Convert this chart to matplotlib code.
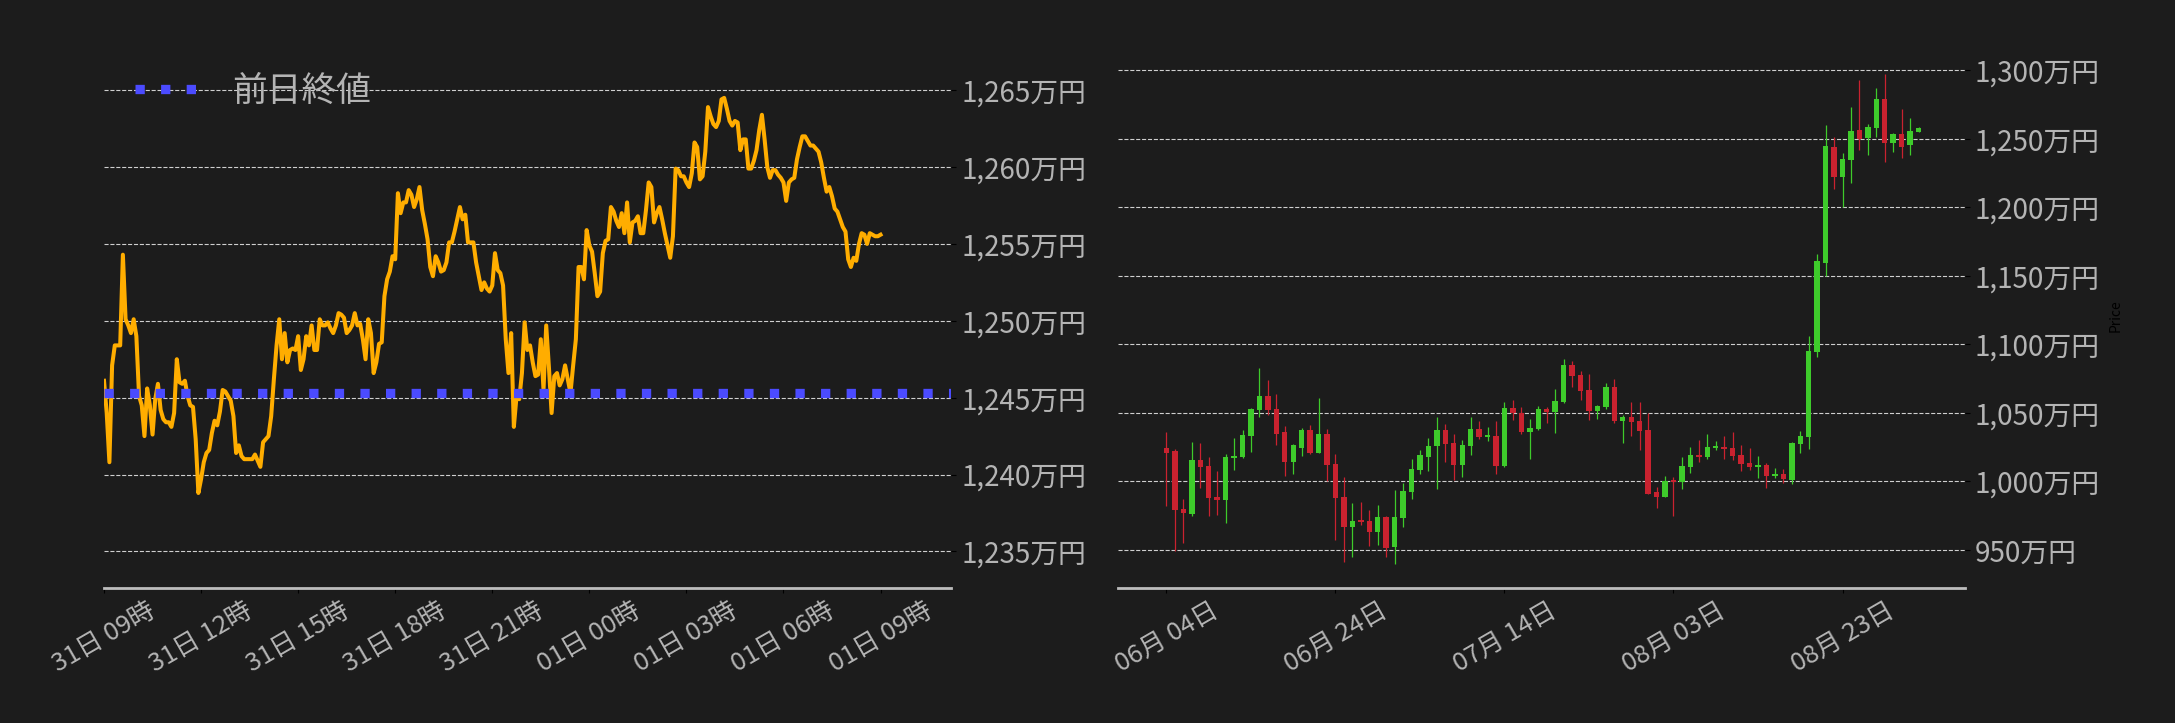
import matplotlib
matplotlib.use('Agg')
import matplotlib.pyplot as plt
import matplotlib.dates as mdates
from matplotlib.ticker import FuncFormatter
import pandas as pd

plt.rcParams['font.family'] = ['Noto Sans CJK JP', 'DejaVu Sans']

# ---- intraday price (万円), 5 min steps from 31日 09:00 ----
intraday_start = '2024-08-31 09:00'
intraday_price = [
    1246.1, 1244.0, 1240.8, 1247.1, 1248.4, 1248.4, 1248.4, 1254.3, 1250.1, 1249.7,
    1249.2, 1250.1, 1249.0, 1245.1, 1244.5, 1242.5, 1245.6, 1244.5, 1242.6, 1244.9,
    1245.9, 1244.2, 1243.6, 1243.4, 1243.4, 1243.1, 1244.0, 1247.5, 1246.0, 1245.9,
    1246.1, 1245.1, 1244.5, 1244.4, 1242.3, 1238.8, 1239.7, 1240.8, 1241.4, 1241.6,
    1242.7, 1243.5, 1243.2, 1244.1, 1245.5, 1245.4, 1245.1, 1244.8, 1243.8, 1241.4,
    1241.9, 1241.2, 1241.0, 1241.0, 1241.0, 1241.0, 1241.3, 1240.9, 1240.5, 1242.1,
    1242.3, 1242.5, 1243.8, 1246.2, 1248.4, 1250.1, 1247.5, 1249.2, 1247.3, 1248.1,
    1248.2, 1248.1, 1249.0, 1246.8, 1247.5, 1249.0, 1248.4, 1249.7, 1248.1, 1248.1,
    1250.1, 1249.7, 1249.7, 1249.9, 1249.5, 1249.2, 1249.7, 1250.5, 1250.4, 1250.2,
    1249.2, 1249.4, 1249.7, 1250.5, 1249.7, 1249.8, 1248.8, 1247.5, 1250.1, 1249.2,
    1246.6, 1247.3, 1248.5, 1248.6, 1251.6, 1252.7, 1253.2, 1254.2, 1254.0, 1258.3,
    1257.0, 1257.7, 1257.7, 1258.5, 1258.2, 1257.4, 1257.9, 1258.7, 1257.2, 1256.3,
    1255.3, 1253.5, 1252.9, 1254.2, 1253.8, 1253.2, 1253.3, 1253.8, 1255.1, 1255.1,
    1255.8, 1256.6, 1257.4, 1256.6, 1256.9, 1255.1, 1255.1, 1255.1, 1253.8, 1252.9,
    1252.0, 1252.5, 1252.1, 1251.9, 1252.3, 1254.4, 1253.3, 1253.1, 1252.3, 1248.8,
    1246.6, 1249.2, 1243.1, 1245.1, 1244.9, 1246.6, 1249.9, 1248.1, 1248.4, 1247.3,
    1246.4, 1246.5, 1248.8, 1245.5, 1249.7, 1247.0, 1244.0, 1246.4, 1246.6, 1245.8,
    1246.2, 1247.1, 1246.2, 1245.3, 1247.1, 1248.8, 1253.5, 1253.5, 1252.7, 1255.9,
    1254.9, 1254.5, 1253.1, 1251.6, 1251.9, 1254.4, 1255.2, 1255.3, 1257.4, 1257.1,
    1256.5, 1256.1, 1257.0, 1255.7, 1257.7, 1255.1, 1256.4, 1256.5, 1256.8, 1255.7,
    1255.7, 1257.2, 1259.0, 1258.7, 1256.4, 1257.0, 1257.4, 1256.6, 1255.7, 1254.9,
    1254.1, 1255.5, 1259.9, 1259.8, 1259.4, 1259.4, 1259.0, 1258.7, 1259.6, 1261.6,
    1261.3, 1259.2, 1259.4, 1261.0, 1263.9, 1263.3, 1262.8, 1262.6, 1263.0, 1264.4,
    1264.5, 1263.8, 1263.0, 1262.7, 1263.0, 1262.9, 1261.1, 1261.8, 1261.8, 1259.9,
    1259.9, 1260.4, 1261.1, 1262.4, 1263.4, 1261.8, 1260.0, 1259.3, 1259.8, 1259.8,
    1259.5, 1259.3, 1259.0, 1257.8, 1259.0, 1259.2, 1259.3, 1260.5, 1261.3, 1262.0,
    1262.0, 1261.7, 1261.4, 1261.4, 1261.2, 1261.0, 1260.3, 1259.3, 1258.4, 1258.7,
    1258.1, 1257.3, 1257.1, 1256.6, 1256.1, 1255.8, 1254.0, 1253.5, 1254.1, 1253.9,
    1255.0, 1255.7, 1255.6, 1255.0, 1255.7, 1255.6, 1255.5, 1255.5, 1255.6,
]
prev_close = 1245.3

# ---- daily candles (万円) from 06/04 ----
daily_start = '2024-06-04'
daily_open = [
    1024.3, 1022.1, 979.8, 976.2, 1015.6, 1011.2, 988.6, 986.6, 1017.3, 1017.8,
    1033.1, 1052.3, 1062.3, 1052.8, 1036.0, 1014.4, 1024.6, 1037.5, 1020.9, 1034.5,
    1012.7, 988.6, 966.9, 971.8, 970.8, 963.3, 974.0, 952.3, 973.5, 992.5,
    1008.5, 1018.0, 1026.0, 1037.5, 1028.0, 1012.2, 1026.0, 1038.2, 1032.4, 1033.1,
    1011.4, 1053.5, 1049.9, 1036.3, 1038.2, 1052.8, 1050.9, 1057.9, 1084.9, 1077.6,
    1066.7, 1051.6, 1054.5, 1068.9, 1044.0, 1047.0, 1044.0, 1037.5, 992.2, 988.8,
    1001.0, 999.8, 1010.7, 1019.2, 1018.0, 1024.3, 1025.3, 1024.3, 1019.2, 1013.1,
    1010.7, 1011.7, 1004.1, 1005.1, 1000.9, 1027.2, 1032.5, 1094.6, 1159.6, 1243.8,
    1222.4, 1234.7, 1256.1, 1250.8, 1258.1, 1278.8, 1246.7, 1253.3, 1245.2, 1254.6,
]
daily_high = [
    1035.8, 1023.4, 986.9, 1028.7, 1027.7, 1017.5, 1007.8, 1019.7, 1031.4, 1037.5,
    1053.3, 1082.5, 1074.0, 1063.7, 1040.4, 1027.5, 1038.7, 1040.9, 1060.8, 1038.0,
    1019.7, 1003.2, 983.9, 984.7, 978.8, 982.5, 975.0, 993.7, 998.5, 1016.3,
    1022.9, 1031.4, 1047.0, 1041.6, 1034.5, 1030.2, 1047.0, 1044.0, 1039.7, 1044.0,
    1057.7, 1059.0, 1054.3, 1045.3, 1055.0, 1054.3, 1067.4, 1089.0, 1087.8, 1080.5,
    1078.3, 1055.7, 1071.5, 1074.7, 1048.2, 1057.7, 1057.7, 1049.6, 995.9, 1003.9,
    1003.4, 1018.0, 1024.8, 1030.2, 1034.3, 1029.4, 1033.1, 1035.7, 1026.2, 1024.1,
    1018.5, 1013.1, 1009.5, 1008.7, 1028.9, 1036.7, 1106.0, 1165.9, 1259.8, 1251.1,
    1239.4, 1272.9, 1292.6, 1260.5, 1286.8, 1297.0, 1254.0, 1271.5, 1264.9, 1258.3,
]
daily_low = [
    982.2, 949.4, 955.2, 974.9, 995.4, 974.9, 975.7, 969.3, 1008.0, 1017.3,
    1021.2, 1046.7, 1048.4, 1026.8, 1004.1, 1005.6, 1018.7, 1020.2, 1020.5, 1000.0,
    956.9, 940.9, 944.5, 967.9, 952.6, 953.3, 944.5, 939.7, 966.9, 986.9,
    1005.6, 1007.8, 994.6, 1014.4, 1001.2, 1002.9, 1019.5, 1031.0, 1029.7, 1005.1,
    1010.7, 1044.5, 1034.3, 1016.1, 1037.7, 1042.8, 1035.0, 1056.9, 1069.1, 1059.4,
    1044.8, 1045.7, 1053.0, 1042.3, 1027.7, 1033.1, 1022.6, 990.8, 980.3, 988.8,
    974.9, 994.6, 1006.3, 1013.9, 1016.5, 1022.8, 1016.3, 1015.8, 1007.3, 1008.3,
    1002.2, 994.9, 1002.2, 999.0, 997.8, 1020.9, 1023.3, 1090.4, 1149.9, 1213.1,
    1200.4, 1218.0, 1241.8, 1237.9, 1251.6, 1232.8, 1240.1, 1235.7, 1237.9, 1254.6,
]
daily_close = [
    1020.9, 979.1, 976.9, 1015.6, 1010.7, 988.1, 986.6, 1017.8, 1018.5, 1033.8,
    1052.8, 1062.3, 1052.1, 1034.8, 1014.4, 1026.5, 1037.5, 1020.9, 1034.5, 1012.2,
    988.1, 966.9, 970.8, 970.6, 963.3, 974.0, 951.6, 974.0, 992.9, 1009.0,
    1019.2, 1025.8, 1037.5, 1027.5, 1012.2, 1026.5, 1038.2, 1032.6, 1033.8, 1011.4,
    1053.5, 1049.9, 1036.3, 1038.9, 1052.8, 1050.9, 1058.6, 1084.9, 1077.1, 1065.9,
    1051.6, 1055.0, 1068.9, 1044.0, 1047.0, 1043.3, 1037.0, 990.8, 988.8, 1000.0,
    999.8, 1011.2, 1019.2, 1018.0, 1024.8, 1025.3, 1023.8, 1018.7, 1012.9, 1010.7,
    1011.9, 1004.1, 1005.3, 1001.4, 1027.7, 1033.0, 1094.8, 1160.8, 1244.5, 1222.4,
    1235.0, 1255.6, 1249.6, 1258.3, 1278.8, 1246.7, 1253.3, 1244.3, 1255.6, 1257.5,
]

BG = '#1c1c1c'
TXT = '#b4b4b4'
UP = '#3ecb2b'
DOWN = '#c9222f'


def man_yen(v, pos):
    return f'{v:,.0f}万円'


def style_axis(ax):
    ax.set_facecolor(BG)
    for side in ['top', 'left', 'right']:
        ax.spines[side].set_visible(False)
    ax.spines['bottom'].set_color('#bdbdbd')
    ax.spines['bottom'].set_linewidth(2)
    ax.yaxis.tick_right()
    ax.tick_params(axis='both', color='black', labelcolor=TXT)
    ax.tick_params(axis='y', labelsize=20)
    ax.tick_params(axis='x', labelsize=18.5, labelrotation=30)
    ax.grid(axis='y', color='#cfcfcf', linestyle='--', linewidth=0.8)
    ax.set_axisbelow(True)
    ax.yaxis.set_major_formatter(FuncFormatter(man_yen))


fig = plt.figure(figsize=(21.75, 7.23), dpi=100, facecolor=BG)
ax1 = fig.add_axes([0.04782, 0.18631, 0.38961, 0.75422])
ax2 = fig.add_axes([0.51393, 0.18631, 0.38961, 0.75422])

# ---- left: intraday line ----
times = pd.date_range(intraday_start, periods=len(intraday_price), freq='5min')
ax1.plot(times, intraday_price, color='#ffad00', linewidth=2.9)
ax1.axhline(prev_close, color='#4b4bff', linewidth=6.7, linestyle=(0, (1, 1.75)),
            label='前日終値')
t0 = pd.Timestamp(intraday_start)
ax1.set_xlim(t0, t0 + pd.Timedelta(hours=26.19))
ax1.set_ylim(1232.6, 1268.07)
ax1.set_yticks(range(1235, 1266, 5))
ax1.set_xticks(pd.date_range(t0, periods=9, freq='3h'))
ax1.xaxis.set_major_formatter(mdates.DateFormatter('%d日 %H時'))
style_axis(ax1)
ax1.legend(loc='upper left', frameon=False, fontsize=25, labelcolor=TXT)

# ---- right: daily candles ----
days = pd.date_range(daily_start, periods=len(daily_open), freq='D')
x = mdates.date2num(days)
body_low = [min(o, c) for o, c in zip(daily_open, daily_close)]
body_h = [max(abs(c - o), 1.2) for o, c in zip(daily_open, daily_close)]
colors = [UP if c >= o else DOWN for o, c in zip(daily_open, daily_close)]
ax2.vlines(x, daily_low, daily_high, colors=colors, linewidth=0.9)
ax2.bar(x, body_h, bottom=body_low, width=0.64, color=colors, linewidth=0)
ax2.set_xlim(x[0] - 5.76, x[0] + 94.52)
ax2.set_ylim(921.9, 1319.9)
ax2.set_yticks(range(950, 1301, 50))
ax2.set_xticks(x[::20])
ax2.xaxis.set_major_formatter(mdates.DateFormatter('%m月 %d日'))
style_axis(ax2)
ax2.yaxis.set_label_position('right')
ax2.set_ylabel('Price', color='black', fontsize=10, labelpad=6)

fig.savefig('out.png', dpi=100, facecolor=BG)
